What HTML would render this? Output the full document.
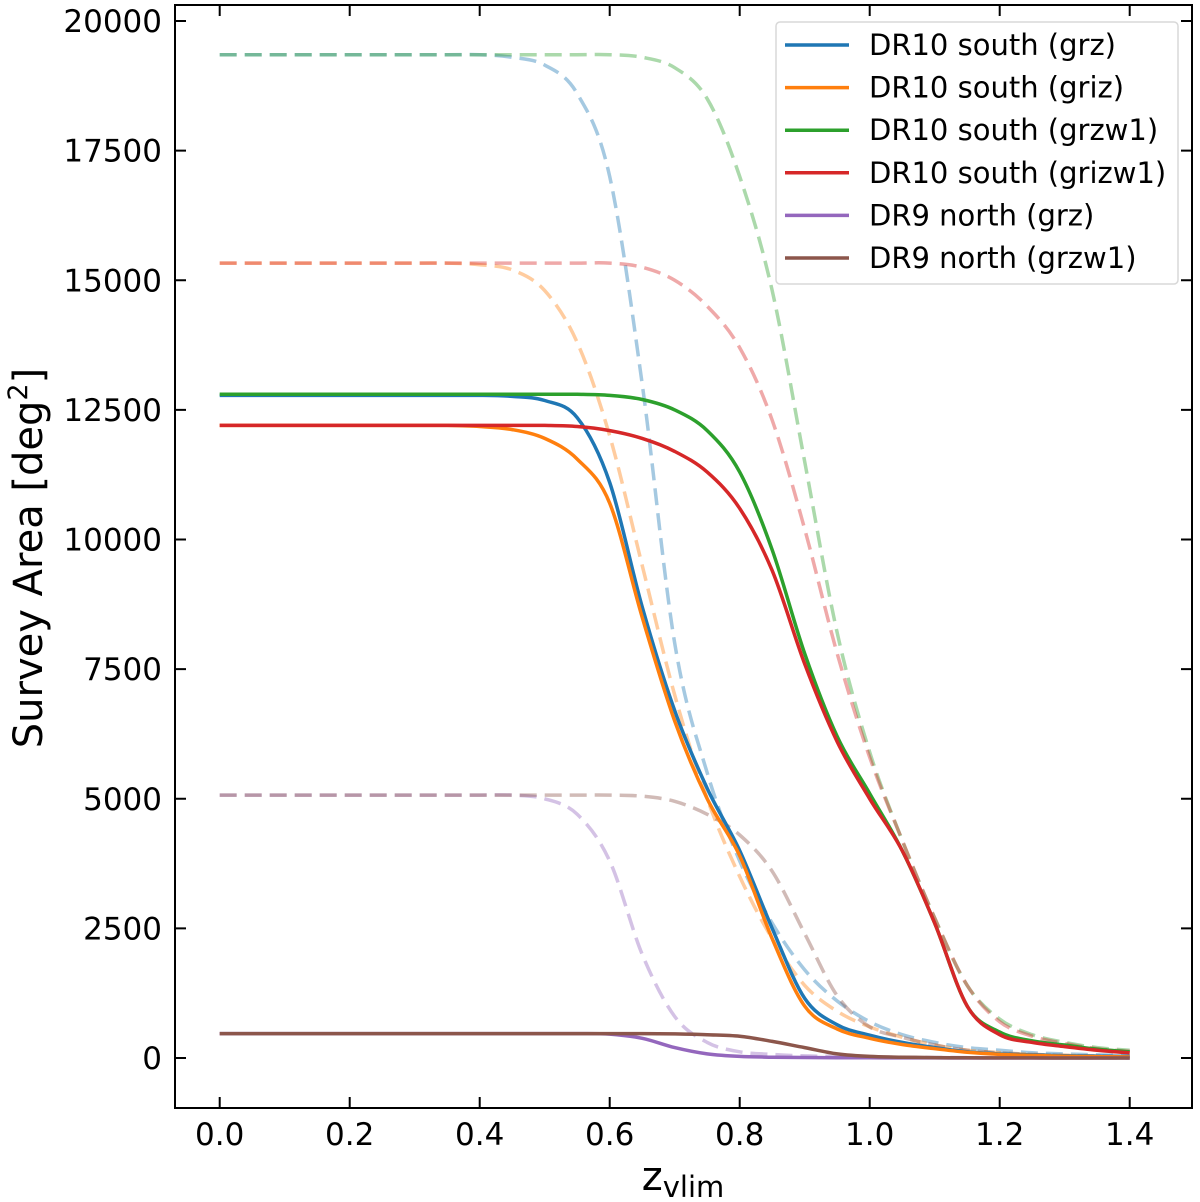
<!DOCTYPE html>
<html><head><meta charset="utf-8"><style>
body{margin:0;background:#fff}
svg{display:block;font-family:"DejaVu Sans","Liberation Sans",sans-serif}
</style></head><body>
<svg id="chart" width="1200" height="1202" viewBox="0 0 1200 1202"></svg>
<script>
const zs=[0,0.05,0.1,0.15,0.2,0.25,0.3,0.35,0.4,0.45,0.5,0.55,0.6,0.65,0.7,0.75,0.8,0.85,0.9,0.95,1.0,1.05,1.1,1.15,1.2,1.25,1.3,1.35,1.4];
const seriesNames=["DR10 south (grz)","DR10 south (griz)","DR10 south (grzw1)","DR10 south (grizw1)","DR9 north (grz)","DR9 north (grzw1)"];
const blueSolid=[12780,12780,12780,12780,12780,12780,12780,12780,12780,12760,12680,12350,11100,8700,6700,5200,4000,2500,1150,640,440,300,200,120,80,60,45,35,30];
const orangeSolid=[12200,12200,12200,12200,12200,12200,12200,12200,12180,12120,11950,11550,10700,8500,6500,5000,3900,2300,1000,560,380,260,180,110,70,50,35,25,20];
const greenSolid=[12800,12800,12800,12800,12800,12800,12800,12800,12800,12800,12800,12800,12780,12700,12500,12100,11300,9800,7800,6200,5100,4000,2600,1000,500,330,250,170,120];
const redSolid=[12200,12200,12200,12200,12200,12200,12200,12200,12200,12200,12200,12180,12100,11950,11700,11300,10600,9400,7600,6100,5000,4000,2600,1000,450,300,220,150,100];
const purpleSolid=[470,470,470,470,470,470,470,470,470,470,470,470,460,380,200,80,30,15,10,5,3,2,1,0,0,0,0,0,0];
const brownSolid=[470,470,470,470,470,470,470,470,470,470,470,470,470,470,465,450,420,320,200,80,30,15,8,4,2,1,0,0,0];
const blueDashed=[19350,19350,19350,19350,19350,19350,19350,19350,19350,19300,19150,18600,17000,13000,8000,5500,3800,2600,1700,1100,700,450,300,200,150,100,80,60,50];
const orangeDashed=[15330,15330,15330,15330,15330,15330,15330,15330,15300,15200,14800,13800,12000,9500,7000,5000,3500,2300,1400,900,600,400,250,150,100,70,50,40,30];
const greenDashed=[19350,19350,19350,19350,19350,19350,19350,19350,19350,19350,19350,19350,19350,19300,19100,18500,17000,14800,11500,8200,5900,4200,2700,1400,750,450,300,200,150];
const redDashed=[15330,15330,15330,15330,15330,15330,15330,15330,15330,15330,15330,15330,15330,15250,15000,14500,13700,12300,10200,7800,5800,4200,2700,1400,700,420,280,180,130];
const purpleDashed=[5070,5070,5070,5070,5070,5070,5070,5070,5070,5070,5000,4700,3800,2000,800,300,120,70,40,30,20,15,10,8,5,3,2,1,0];
const brownDashed=[5070,5070,5070,5070,5070,5070,5070,5070,5070,5070,5070,5070,5070,5050,4950,4700,4300,3600,2400,1200,600,400,250,150,100,70,50,40,30];
const xTicks=[0,0.2,0.4,0.6,0.8,1.0,1.2,1.4];
const xTickLabels=["0.0","0.2","0.4","0.6","0.8","1.0","1.2","1.4"];
const yTicks=[0,2500,5000,7500,10000,12500,15000,17500,20000];

const NS="http://www.w3.org/2000/svg";
const svg=document.getElementById('chart');
const L=175,R=1192,T=5,B=1108;
const X=v=>219.7+v*650;
const Y=v=>1058-v*0.05185;
function mk(tag,attrs,parent){const e=document.createElementNS(NS,tag);for(const k in attrs)e.setAttribute(k,attrs[k]);(parent||svg).appendChild(e);return e;}
function smooth(xs,ys){
  const p=xs.map((x,i)=>[X(x),Y(ys[i])]);
  let d="M"+p[0][0].toFixed(1)+","+p[0][1].toFixed(1);
  for(let i=0;i<p.length-1;i++){
    const p0=p[Math.max(0,i-1)],p1=p[i],p2=p[i+1],p3=p[Math.min(p.length-1,i+2)];
    const c1=[p1[0]+(p2[0]-p0[0])/6,p1[1]+(p2[1]-p0[1])/6];
    const c2=[p2[0]-(p3[0]-p1[0])/6,p2[1]-(p3[1]-p1[1])/6];
    d+=" C"+c1.map(v=>v.toFixed(1)).join(",")+" "+c2.map(v=>v.toFixed(1)).join(",")+" "+p2[0].toFixed(1)+","+p2[1].toFixed(1);
  }
  return d;
}
const colors=["#1f77b4","#ff7f0e","#2ca02c","#d62728","#9467bd","#8c564b"];
const dashed=[blueDashed,orangeDashed,greenDashed,redDashed,purpleDashed,brownDashed];
const solid=[blueSolid,orangeSolid,greenSolid,redSolid,purpleSolid,brownSolid];
const keys=["blue","orange","green","red","purple","brown"];
const plot=mk('g',{});


dashed.forEach((s,i)=>{
  const e=mk('path',{d:smooth(zs,s),fill:"none",stroke:colors[i],"stroke-opacity":0.4,"stroke-width":3.5,"stroke-dasharray":"17 8"},plot);
  
  
});
solid.forEach((s,i)=>{
  const e=mk('path',{d:smooth(zs,s),fill:"none",stroke:colors[i],"stroke-width":3.5},plot);
  
  
});
const fr=mk('rect',{x:L,y:T,width:R-L,height:B-T,fill:"none",stroke:"#000","stroke-width":2});


xTicks.forEach((v,i)=>{
  const x=X(v);
  mk('line',{x1:x,x2:x,y1:B,y2:B-11,stroke:"#000","stroke-width":2});
  mk('line',{x1:x,x2:x,y1:T,y2:T+11,stroke:"#000","stroke-width":2});
  const t=mk('text',{x:x,y:1145,"text-anchor":"middle","font-size":31});
  t.textContent=xTickLabels[i];
  
  
});
yTicks.forEach(v=>{
  const y=Y(v);
  mk('line',{x1:L,x2:L+11,y1:y,y2:y,stroke:"#000","stroke-width":2});
  mk('line',{x1:R,x2:R-11,y1:y,y2:y,stroke:"#000","stroke-width":2});
  const t=mk('text',{x:162,y:y+11,"text-anchor":"end","font-size":31});
  t.textContent=String(v);
  
  
});
const xt=mk('text',{x:683,y:1190,"text-anchor":"middle","font-size":40});
xt.innerHTML='z<tspan font-size="29" dy="7">vlim</tspan>';


const yt=mk('text',{x:0,y:0,"text-anchor":"middle","font-size":40,transform:"translate(42,558) rotate(-90)"});
yt.innerHTML='Survey Area [deg<tspan font-size="27" dy="-15">2</tspan><tspan dy="15">]</tspan>';


const lg=mk('g',{});


mk('rect',{x:776,y:22,width:402,height:262,rx:4,fill:"#fff","fill-opacity":0.85,stroke:"#d8d8d8","stroke-width":1.5},lg);
seriesNames.forEach((n,i)=>{
  const y=45+i*42.6;
  const g=mk('g',{},lg);
  
  
  mk('line',{x1:785,x2:849,y1:y,y2:y,stroke:colors[i],"stroke-width":3.5},g);
  const t=mk('text',{x:869,y:y+10,"font-size":29},g);
  t.textContent=n;
});
</script>
</body></html>
